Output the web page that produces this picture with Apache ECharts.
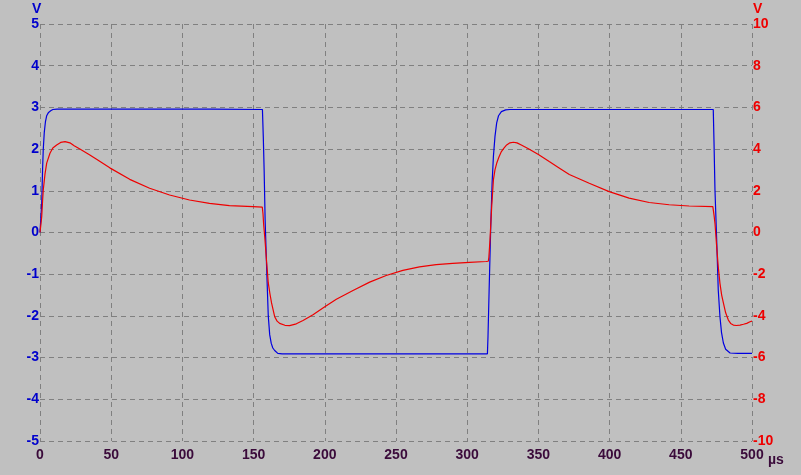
<!DOCTYPE html>
<html>
<head>
<meta charset="utf-8">
<script src="https://cdn.jsdelivr.net/npm/echarts@6/dist/echarts.min.js"></script>
<style>
html,body{margin:0;padding:0;background:#C0C0C0;}
#chart{width:801px;height:475px;}
</style>
</head>
<body>
<div id="chart"></div>
<script>
// Time axis (µs)
var xTicks = [0, 50, 100, 150, 200, 250, 300, 350, 400, 450, 500];
var leftTicks = [-5, -4, -3, -2, -1, 0, 1, 2, 3, 4, 5];
var rightTicks = [-10, -8, -6, -4, -2, 0, 2, 4, 6, 8, 10];

// Blue trace (left axis, V): [time µs, value]
var blueTime = [0, 0.5, 1.2, 1.8, 2.3, 3, 3.8, 4.7, 6, 7.5, 9, 12, 60, 120, 156.2,
  156.8, 157.4, 158.1, 159.2, 160.3, 161.3, 162.4, 163.5, 164.8, 167, 170, 240, 314.2,
  314.6, 315.4, 316.6, 317.5, 318.4, 319.5, 320.7, 322, 324, 327, 330, 400, 472.8,
  473.3, 474, 475.2, 476.3, 477.5, 478.6, 479.9, 481.5, 484.6, 490, 500];
var blueVal = [0, 0.3, 0.7, 1.5, 2.0, 2.4, 2.65, 2.8, 2.88, 2.92, 2.95, 2.96, 2.96, 2.96, 2.95,
  2.3, 1.5, 0.3, -0.9, -2.0, -2.45, -2.66, -2.77, -2.83, -2.9, -2.91, -2.91, -2.91,
  -2.5, -1.38, 0.23, 1.2, 1.82, 2.3, 2.63, 2.8, 2.9, 2.94, 2.95, 2.95, 2.95,
  2.2, 1.02, -0.18, -1.38, -2.02, -2.4, -2.65, -2.8, -2.89, -2.9, -2.9];

// Red trace (right axis, V): [time µs, value]
var redTime = [0, 0.5, 1.2, 1.8, 2.3, 3.5, 4.7, 7, 9, 11.7, 14.5, 17.6, 21, 24, 28, 35, 40, 49,
  63, 77, 91, 105, 119, 133, 149.6, 156.1,
  156.6, 157, 158, 159.2, 160.3, 161.5, 162.6, 164.8, 166.5, 168.3, 172, 175.3, 180, 184.7,
  191.7, 200, 208.1, 219.8, 231.5, 243.1, 254.8, 266.5, 278.2, 289.8, 301.5, 313.2, 314.8,
  315.2, 316, 317.2, 318.4, 319.5, 320.7, 322.3, 324, 325.8, 327.7, 330, 332.4, 335, 338,
  343, 350, 357.6, 364, 371.7, 385.7, 399.7, 413.7, 427.8, 441.8, 455.8, 472.5,
  472.8, 473.4, 474, 475.2, 476.3, 477.5, 478.7, 479.9, 481.5, 483.4, 485, 486.9, 489,
  491.6, 494, 496.3, 498.6, 500];
var redVal = [0, 0.3, 0.76, 1.5, 2.04, 2.8, 3.33, 3.8, 4.05, 4.2, 4.32, 4.36, 4.3, 4.16, 4.0, 3.72, 3.5, 3.1,
  2.55, 2.12, 1.8, 1.56, 1.4, 1.29, 1.24, 1.22,
  0.9, 0.44, -0.36, -1.46, -2.42, -2.95, -3.38, -4.04, -4.25, -4.36, -4.45, -4.47, -4.38, -4.22,
  -3.94, -3.56, -3.2, -2.78, -2.38, -2.06, -1.82, -1.65, -1.54, -1.48, -1.43, -1.39, -1.38,
  -1.2, -0.36, 1.24, 2.52, 3.0, 3.32, 3.62, 3.88, 4.05, 4.2, 4.3, 4.33, 4.3, 4.2,
  4.02, 3.74, 3.4, 3.12, 2.78, 2.36, 1.96, 1.65, 1.44, 1.33, 1.27, 1.24,
  1.2, 0.8, 0.44, -0.68, -1.64, -2.44, -3.0, -3.38, -3.85, -4.2, -4.36, -4.44, -4.46,
  -4.44, -4.4, -4.36, -4.28, -4.25];

function pairs(t, v) { return t.map(function (x, i) { return [x, v[i]]; }); }

var FONT = '"Liberation Sans", Arial, sans-serif';
var chart = echarts.init(document.getElementById('chart'), null, {renderer: 'canvas'});
var gridLine = {show: true, lineStyle: {color: '#808080', type: [5, 4], width: 1}};

chart.setOption({
  backgroundColor: '#C0C0C0',
  animation: false,
  grid: {left: 40, right: 49, top: 24, bottom: 34, containLabel: false},
  xAxis: {
    type: 'value', min: xTicks[0], max: xTicks[xTicks.length - 1], interval: 50,
    axisLine: {show: false}, axisTick: {show: false},
    splitLine: gridLine,
    axisLabel: {color: '#3A0A3A', fontFamily: FONT, fontWeight: 'bold', fontSize: 14, margin: 7,
      showMinLabel: true, showMaxLabel: true}
  },
  yAxis: [{
    type: 'value', min: leftTicks[0], max: leftTicks[leftTicks.length - 1], interval: 1, position: 'left',
    axisLine: {show: false}, axisTick: {show: false},
    splitLine: gridLine,
    axisLabel: {color: '#0000CC', fontFamily: FONT, fontWeight: 'bold', fontSize: 14, margin: 1}
  }, {
    type: 'value', min: rightTicks[0], max: rightTicks[rightTicks.length - 1], interval: 2, position: 'right',
    axisLine: {show: false}, axisTick: {show: false},
    splitLine: {show: false},
    axisLabel: {color: '#EE0000', fontFamily: FONT, fontWeight: 'bold', fontSize: 14, margin: 1}
  }],
  series: [{
    type: 'line', name: 'blue', yAxisIndex: 0, data: pairs(blueTime, blueVal),
    showSymbol: false, symbol: 'none', smooth: false,
    lineStyle: {color: '#0000E0', width: 1.2}
  }, {
    type: 'line', name: 'red', yAxisIndex: 1, data: pairs(redTime, redVal),
    showSymbol: false, symbol: 'none', smooth: false,
    lineStyle: {color: '#EE0000', width: 1.2}
  }],
  graphic: [
    {type: 'text', left: 32, top: 2, style: {text: 'V', fill: '#0000CC', font: 'bold 14px ' + FONT}},
    {type: 'text', left: 753, top: 2, style: {text: 'V', fill: '#EE0000', font: 'bold 14px ' + FONT}},
    {type: 'text', left: 768, top: 453, style: {text: 'µs', fill: '#3A0A3A', font: 'bold 14px ' + FONT}}
  ]
});
</script>
</body>
</html>
